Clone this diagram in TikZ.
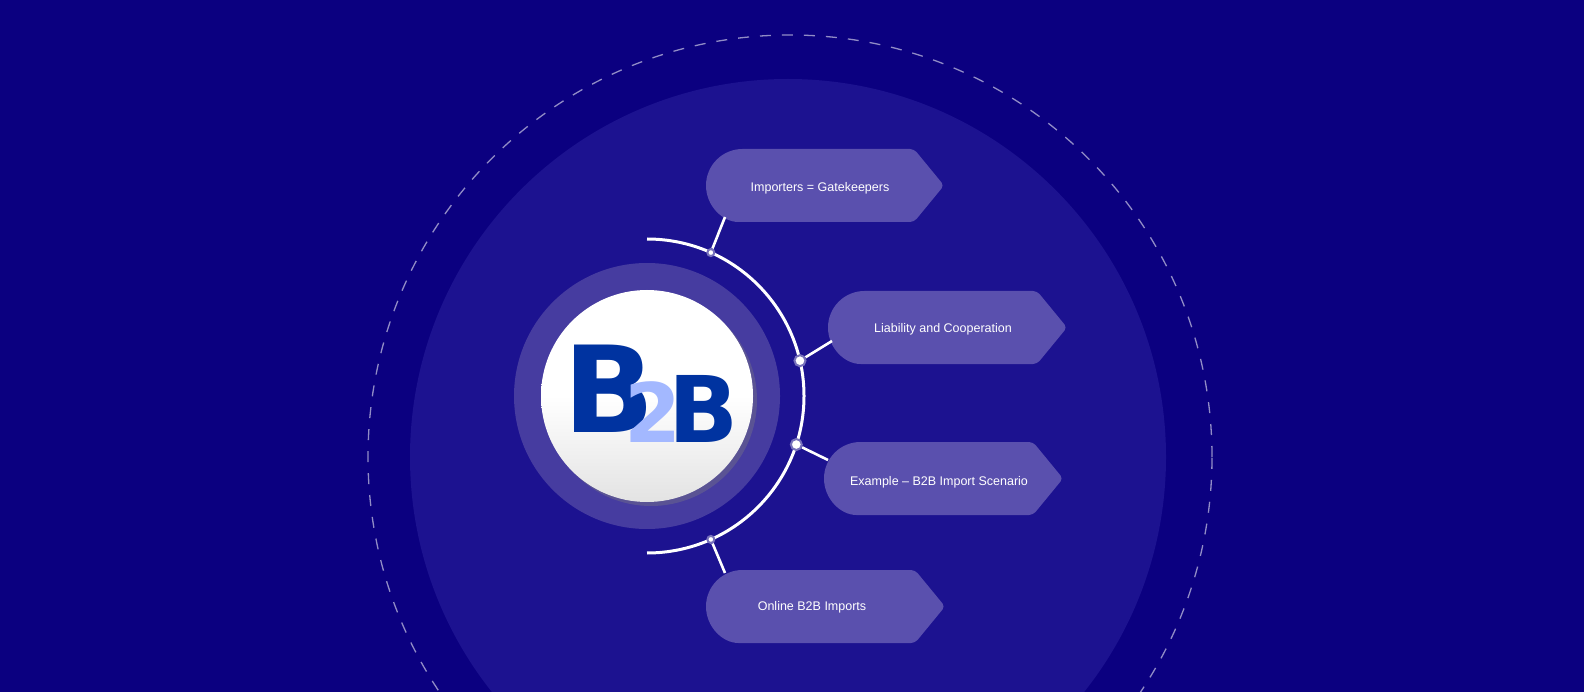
\documentclass[tikz,border=0pt]{standalone}
\usepackage{fontspec}
\setmainfont{Liberation Sans}
\newfontfamily\logofont{DejaVu Sans}
\usetikzlibrary{shadows,calc}
\definecolor{bgblue}{HTML}{0B0080}
\definecolor{discblue}{HTML}{1C1290}
\definecolor{ringblue}{HTML}{463CA0}
\definecolor{tagblue}{HTML}{5A50AE}
\definecolor{logodark}{HTML}{0033A0}
\definecolor{logolight}{HTML}{A3B8FF}
\tikzset{
  tagtext/.style={text=white, font=\fontsize{12.5}{14}\selectfont, inner sep=0pt},
  link/.style={white, line width=2.6pt},
  dot/.style={circle, fill=white, inner sep=0pt, minimum size=#1},
  logo/.style={inner sep=0pt, anchor=south west, font=\logofont\bfseries\fontsize{#1}{#1}\selectfont},
}
% tag shape: left x, top y (px), width
\newcommand\tagbox[3]{%
  \fill[tagblue, rounded corners=4pt] (#1+36.5,-#2) -- (#1+#3-30,-#2) -- (#1+#3,-#2-36.5)
    -- (#1+#3-30,-#2-73) -- (#1+36.5,-#2-73) [sharp corners] arc (270:90:36.5) -- cycle;}
\begin{document}
\begin{tikzpicture}[x=1pt,y=1pt]
  \useasboundingbox (0,0) rectangle (1584,-692);
  \clip (0,0) rectangle (1584,-692);
  \fill[bgblue] (0,0) rectangle (1584,-692);

  % background discs
  \fill[discblue] (788,-457) circle (378);
  \draw[white!55!bgblue, line width=1.3pt, dash pattern=on 11pt off 11pt] (790,-457) circle (422);

  % logo
  \fill[ringblue] (647,-396) circle (133);
  \shade[top color=white, bottom color=white!78!gray, middle color=white, drop shadow={opacity=0.35, shadow xshift=4pt, shadow yshift=-4pt}]
    (647,-396) circle (106);
  \node[logo=120, text=logodark] (bigb) at (563,-433) {B};
  \node[logo=92, text=logodark] (smallb) at (668,-443) {B};
  \node[logo=82, text=logolight] (two) at (624,-443) {2};

  % arc and dots
  \draw[white, line width=3pt] (647,-239) arc (90:-90:157);
  \foreach \ang/\nm/\sz in {66/da/7pt, 13/db/11pt, -18/dc/11pt, -66/dd/7pt}
    \node[dot=\sz, draw=white!40!discblue, line width=2pt] (\nm) at ($(647,-396)+(\ang:157)$) {};

  % tags
  \tagbox{706}{149}{238}
  \tagbox{828}{291}{239}
  \tagbox{824}{442}{239}
  \tagbox{706}{570}{239}
  \node[tagtext] (imp) at (820,-188) {Importers = Gatekeepers};
  \node[tagtext] (lia) at (943,-329) {Liability and Cooperation};
  \node[tagtext] (exa) at (939,-482) {Example – B2B Import Scenario};
  \node[tagtext] (onl) at (812,-607) {Online B2B Imports};

  \coordinate (ea) at (725,-217);
  \coordinate (eb) at (832,-341);
  \coordinate (ec) at (828,-460);
  \coordinate (ed) at (725,-573);
  \draw[link] (da) -- (ea);
  \draw[link] (db) -- (eb);
  \draw[link] (dc) -- (ec);
  \draw[link] (dd) -- (ed);
\end{tikzpicture}
\end{document}
